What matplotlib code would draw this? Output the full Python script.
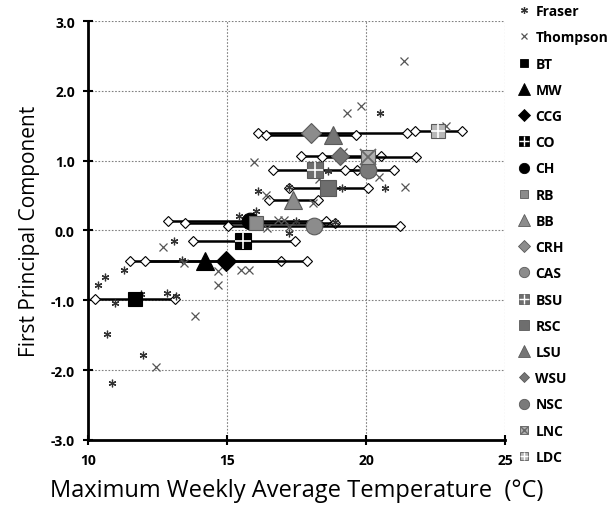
import matplotlib.pyplot as plt
from matplotlib.lines import Line2D
from matplotlib.ticker import FormatStrFormatter

plt.rcParams['font.family'] = ['Open Sans', 'DejaVu Sans']

# scatter of sites
fraser_x = [10.68, 11.98, 10.86, 10.37, 10.60, 11.28, 13.08, 13.37, 10.96, 11.90, 12.83,
            13.15, 15.45, 16.13, 17.24, 18.64, 16.03, 17.48, 17.24, 18.88, 20.50, 19.15, 20.68]
fraser_y = [-1.48, -1.79, -2.18, -0.78, -0.67, -0.56, -0.15, -0.42, -1.04, -0.91, -0.90,
            -0.94, 0.21, 0.56, 0.62, 0.85, 0.28, 0.14, -0.03, 0.12, 1.68, 0.61, 0.61]
thompson_x = [12.46, 13.86, 12.69, 13.45, 14.67, 14.69, 15.50, 15.79, 15.97, 16.39, 18.10, 18.32,
              16.85, 17.04, 16.45, 17.22, 19.33, 19.82, 20.48, 21.40, 21.37, 22.88, 19.18]
thompson_y = [-1.96, -1.23, -0.23, -0.47, -0.58, -0.78, -0.56, -0.56, 0.98, 0.51, 0.39, 0.74,
              0.15, 0.15, 0.04, 0.05, 1.68, 1.79, 0.76, 0.62, 2.43, 1.49, 1.13]

# stations: mean temperature, PC1 score, min and max of the range
stations = ['BT', 'MW', 'CCG', 'CO', 'CH', 'RB', 'BB', 'CRH', 'CAS',
            'BSU', 'RSC', 'LSU', 'WSU', 'NSC', 'LNC', 'LDC']
st_mean = [11.68, 14.22, 14.95, 15.59, 15.83, 16.03, 17.39, 18.01, 18.13,
           18.17, 18.62, 18.80, 19.06, 20.08, 20.08, 22.58]
st_y = [-0.98, -0.43, -0.43, -0.15, 0.13, 0.11, 0.43, 1.39, 0.06,
        0.86, 0.61, 1.37, 1.06, 0.87, 1.05, 1.43]
st_min = [10.24, 11.50, 12.06, 13.79, 12.89, 13.49, 16.50, 16.13, 15.02,
          16.64, 17.23, 16.40, 17.65, 19.24, 18.40, 21.76]
st_max = [13.13, 16.94, 17.87, 17.45, 18.56, 18.88, 18.26, 21.46, 21.22,
          19.66, 20.06, 19.63, 20.53, 21.00, 21.80, 23.46]

# marker, face colour, size, overlay
styles = {
    'BT': ('s', 'black', 10, None), 'MW': ('^', 'black', 13, None),
    'CCG': ('D', 'black', 10, None), 'CO': ('s', 'black', 11, '+'),
    'CH': ('o', 'black', 12, None), 'RB': ('s', '#8c8c8c', 10, None),
    'BB': ('^', '#8c8c8c', 13, None), 'CRH': ('D', '#8c8c8c', 10, None),
    'CAS': ('o', '#8c8c8c', 12, None), 'BSU': ('s', '#6e6e6e', 11, '+'),
    'RSC': ('s', '#6e6e6e', 11, None), 'LSU': ('^', '#757575', 13, None),
    'WSU': ('D', '#757575', 9, None), 'NSC': ('o', '#7a7a7a', 12, None),
    'LNC': ('s', '#b0b0b0', 10, 'x'), 'LDC': ('s', '#b8b8b8', 10, '+'),
}

fig = plt.figure(figsize=(6.11, 5.06), dpi=100)
ax = fig.add_axes([0.144, 0.1285, 0.6825, 0.828])

for i, s in enumerate(stations):
    ax.plot([st_min[i], st_max[i]], [st_y[i], st_y[i]], color='black', lw=1.8,
            marker='D', ms=5, mfc='white', mec='black', mew=0.8, zorder=3)

ax.plot(fraser_x, fraser_y, ls='none', marker=(6, 2, 0), ms=5.5, color='#333333', mew=0.9, zorder=4)
ax.plot(thompson_x, thompson_y, ls='none', marker='x', ms=5.5, color='#555555', mew=0.9, zorder=4)

handles = [Line2D([], [], ls='none', marker=(6, 2, 0), ms=5, color='#333333', mew=0.9),
           Line2D([], [], ls='none', marker='x', ms=4.5, color='#555555', mew=0.9)]
for i, s in enumerate(stations):
    m, c, sz, ov = styles[s]
    ec = c if c == 'black' else '#5a5a5a'
    ax.plot(st_mean[i], st_y[i], ls='none', marker=m, ms=sz, mfc=c, mec=ec, mew=0.8, zorder=5)
    h = Line2D([], [], ls='none', marker=m, ms=sz * 0.62, mfc=c, mec=ec, mew=0.6)
    if ov == '+':
        ax.plot(st_mean[i], st_y[i], ls='none', marker='+', ms=sz, color='white', mew=1.2, zorder=6)
        h = (h, Line2D([], [], ls='none', marker='+', ms=sz * 0.62, color='white', mew=1.0))
    elif ov == 'x':
        ax.plot(st_mean[i], st_y[i], ls='none', marker='x', ms=sz * 1.1, color='#6a6a6a', mew=1.3, zorder=6)
        h = (h, Line2D([], [], ls='none', marker='x', ms=sz * 0.62, color='#6a6a6a', mew=1.0))
    handles.append(h)

ax.set_xlim(10, 25)
ax.set_ylim(-3, 3)
ax.set_xticks([10, 15, 20, 25])
ax.set_yticks([-3, -2, -1, 0, 1, 2, 3])
ax.yaxis.set_major_formatter(FormatStrFormatter('%.1f'))
ax.grid(True, ls=(0, (1.5, 1.5)), color='#808080', lw=0.8)
ax.set_axisbelow(True)
for sp in ['top', 'right']:
    ax.spines[sp].set_visible(False)
for sp in ['left', 'bottom']:
    ax.spines[sp].set_linewidth(2)
ax.tick_params(direction='inout', length=7, width=1.5, labelsize=10, pad=6)
for lab in ax.get_xticklabels() + ax.get_yticklabels():
    lab.set_fontweight('bold')

ax.set_xlabel('Maximum Weekly Average Temperature  (°C)', fontsize=17, labelpad=8)
ax.set_ylabel('First Principal Component', fontsize=15, labelpad=8)

fig.legend(handles, ['Fraser', 'Thompson'] + stations, loc='upper left',
           bbox_to_anchor=(0.848, 0.99), frameon=False,
           prop=dict(weight='bold', size=10), labelspacing=0.88,
           handlelength=0.9, handletextpad=0.35, borderpad=0, borderaxespad=0)

fig.savefig('out.png', dpi=100)
